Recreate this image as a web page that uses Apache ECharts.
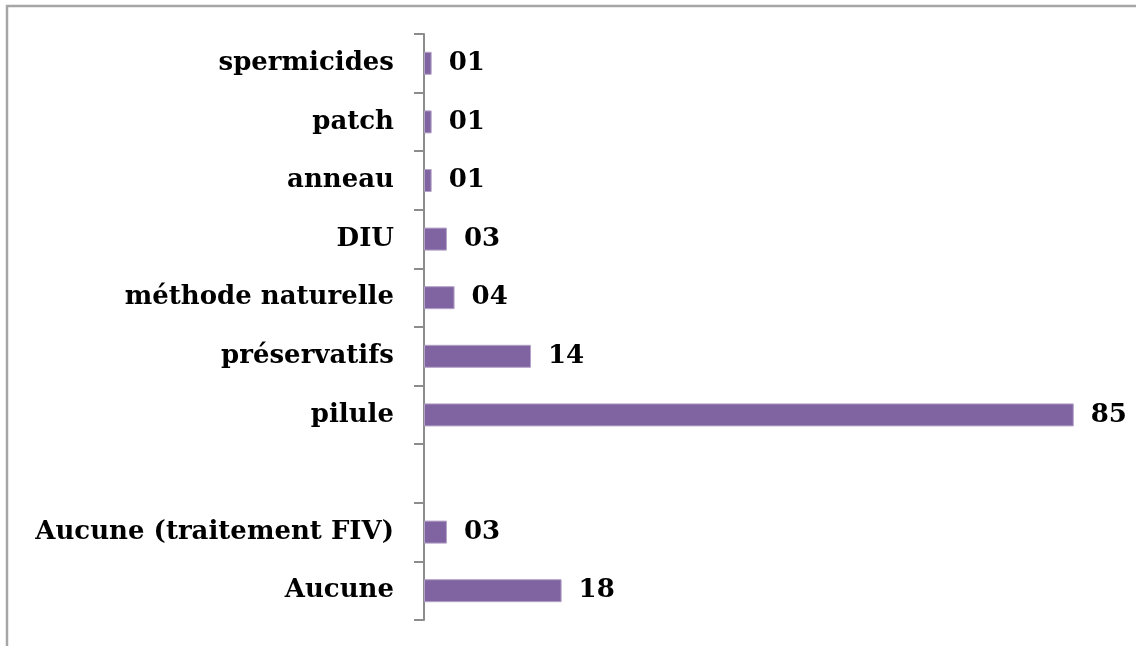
<!DOCTYPE html>
<html>
<head>
<meta charset="utf-8">
<script src="https://cdn.jsdelivr.net/npm/echarts@6/dist/echarts.min.js"></script>
<style>
html,body{margin:0;padding:0;background:#fff;}
#chart{width:1136px;height:646px;}
</style>
</head>
<body>
<div id="chart"></div>
<script>
var categories = ['Aucune', 'Aucune (traitement FIV)', '', 'pilule', 'préservatifs', 'méthode naturelle', 'DIU', 'anneau', 'patch', 'spermicides'];
var values = [18, 3, null, 85, 14, 4, 3, 1, 1, 1];
var axisMax = 90;

var chart = echarts.init(document.getElementById('chart'));
var font = '"DejaVu Serif", serif';
chart.setOption({
  animation: false,
  backgroundColor: '#ffffff',
  graphic: [{
    type: 'polyline',
    shape: { points: [[7, 646], [7, 6], [1136, 6]] },
    style: { stroke: '#a6a6a6', lineWidth: 2.5, fill: null },
    silent: true
  }],
  grid: { left: 424, top: 34, bottom: 26, right: 24, containLabel: false },
  xAxis: {
    type: 'value', min: 0, max: axisMax, show: false
  },
  yAxis: {
    type: 'category',
    data: categories,
    axisLine: { show: true, lineStyle: { color: '#8c8c8c', width: 2 } },
    axisTick: { show: true, length: 10, lineStyle: { color: '#8c8c8c', width: 2 } },
    axisLabel: { margin: 30, color: '#000', fontFamily: font, fontWeight: 'bold', fontSize: 26, padding: [8, 0, 0, 0] },
    splitLine: { show: false }
  },
  series: [{
    type: 'bar',
    data: values,
    barWidth: 23,
    itemStyle: { color: '#8064a2', borderColor: '#b3a2c7', borderWidth: 1 },
    label: {
      show: true, position: 'right', distance: 17,
      color: '#000', fontFamily: font, fontWeight: 'bold', fontSize: 26, padding: [8, 0, 0, 0],
      formatter: function (p) { return p.value == null ? '' : (p.value < 10 ? '0' + p.value : String(p.value)); }
    }
  }]
});
</script>
</body>
</html>
